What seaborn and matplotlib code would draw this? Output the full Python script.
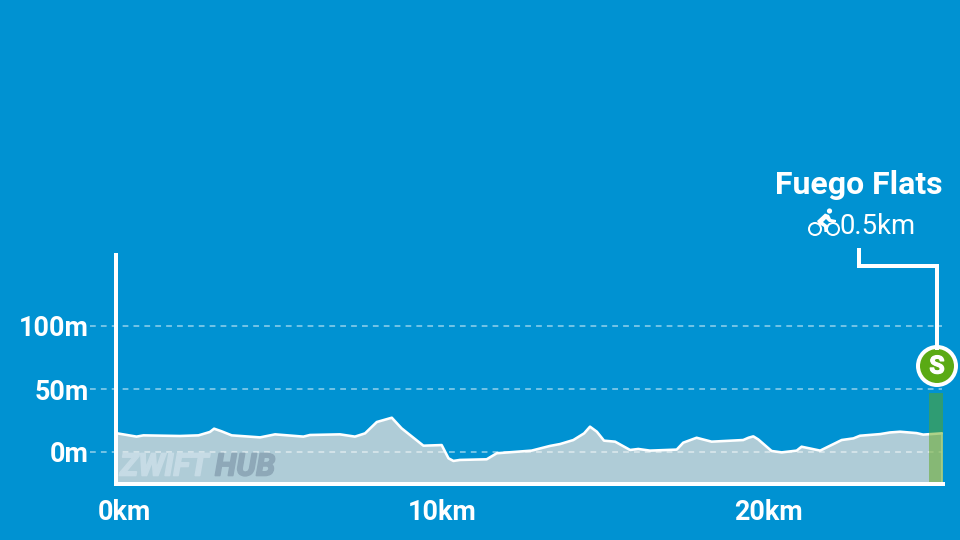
import numpy as np
import pandas as pd
import seaborn as sns
import matplotlib
matplotlib.use("Agg")
import matplotlib.pyplot as plt
import matplotlib.patheffects as pe
from matplotlib.patches import Circle, Polygon

BG = "#0092d2"
FILL = "#afccd7"
GREEN = "#5ea615"

distance_km = [0.04, 0.63, 0.84, 1.96, 2.53, 2.88, 3.01, 3.24, 3.55, 4.42, 4.88, 5.75, 5.95, 6.87,
               7.33, 7.64, 8.0, 8.46, 8.76, 9.43, 9.99, 10.2, 10.35, 10.55, 11.37, 11.68, 12.75,
               13.31, 13.62, 14.03, 14.36, 14.54, 14.75, 14.97, 15.31, 15.77, 16.02, 16.38, 17.2,
               17.4, 17.81, 18.27, 19.24, 19.4, 19.55, 19.7, 20.11, 20.42, 20.88, 21.03, 21.6,
               22.26, 22.62, 22.82, 23.44, 23.74, 24.05, 24.56, 24.76, 25.33]
elevation_m = [14.8, 12.2, 13.2, 12.7, 13.2, 15.9, 18.5, 16.4, 13.2, 11.6, 14.0, 12.2, 13.5, 14.0,
               12.2, 14.8, 23.8, 27.2, 18.8, 5.0, 5.5, -5.0, -7.1, -6.3, -5.8, -1.0, 1.1,
               4.8, 6.3, 9.5, 14.8, 20.1, 16.1, 9.0, 8.2, 1.6, 2.4, 1.1, 1.9,
               7.4, 11.3, 8.2, 9.5, 11.3, 12.4, 10.0, 0.8, -0.3, 1.1, 4.2, 1.1,
               9.5, 10.8, 12.9, 14.2, 15.5, 16.1, 15.0, 13.8, 14.8]
x_ticks = [0, 5, 10, 15, 20, 25]
x_labels = ["0km", "", "10km", "", "20km", ""]
y_ticks = [0, 50, 100]
y_labels = ["0m", "50m", "100m"]
segment_name = "Fuego Flats"
segment_length = "0.5km"
segment_span = [24.94, 25.37]

sns.set_theme(style="white", rc={"axes.facecolor": BG, "figure.facecolor": BG})
plt.rcParams["font.family"] = ["Roboto", "DejaVu Sans"]

fig = plt.figure(figsize=(9.6, 5.4), dpi=100, facecolor=BG)
def pt(px):
    return px * 0.72

L, R, T, B = 116, 943, 255, 484
ax = fig.add_axes([L / 960, 1 - B / 540, (R - L) / 960, (B - T) / 540])
ax.set_facecolor("none")
ax.set_xlim(0, (R - L) / 32.6)
ax.set_ylim(-(B - 452) / 1.26, (452 - T) / 1.26)

df = pd.DataFrame({"km": distance_km, "m": elevation_m})
bottom = ax.get_ylim()[0]
ax.fill_between(df["km"], df["m"], bottom, color=FILL, lw=0, zorder=1)
sns.lineplot(data=df, x="km", y="m", ax=ax, color="white", lw=pt(2.6), zorder=3, errorbar=None)
ax.lines[-1].set_solid_joinstyle("round")
ax.plot([distance_km[-1]] * 2, [elevation_m[-1], bottom], color="white", lw=pt(1.5), zorder=3)
ax.set_xlabel("")
ax.set_ylabel("")

for v in y_ticks:
    ax.plot([-0.8, distance_km[-1]], [v, v], color="white", alpha=0.55, lw=pt(1.6),
            dashes=(3.6, 3.2), clip_on=False, zorder=2)

ax.axvspan(segment_span[0], segment_span[1], ymin=0, ymax=(484 - 393) / (B - T),
           color=GREEN, alpha=0.5, lw=0, zorder=4)

for s in ["top", "right"]:
    ax.spines[s].set_visible(False)
for s in ["left", "bottom"]:
    ax.spines[s].set_color("white")
    ax.spines[s].set_linewidth(pt(4))
    ax.spines[s].set_zorder(6)
ax.set_xticks(x_ticks, x_labels)
ax.set_yticks(y_ticks, y_labels)
ax.tick_params(axis="x", colors="white", length=pt(6), width=pt(3), pad=pt(9), labelsize=pt(27))
ax.tick_params(axis="y", length=0, labelcolor="white", pad=pt(27), labelsize=pt(27))
for lab in ax.get_xticklabels() + ax.get_yticklabels():
    lab.set_fontweight("bold")
ax.get_xticklabels()[0].set_horizontalalignment("left")
ax.get_xticklabels()[0].set_x(0)
ax.get_xticklabels()[0].set_transform(
    ax.get_xticklabels()[0].get_transform() + matplotlib.transforms.ScaledTranslation(-18 / 100, 0, fig.dpi_scale_trans))

ov = fig.add_axes([0, 0, 1, 1], zorder=10)
ov.set_xlim(0, 960)
ov.set_ylim(540, 0)
ov.axis("off")
ov.patch.set_alpha(0)

ov.text(120, 467, "ZWIFT", color="#c6dbe5", fontsize=pt(31), fontweight="bold", style="italic",
        va="center", ha="left", path_effects=[pe.withStroke(linewidth=1.2, foreground="#c6dbe5")])
ov.text(215, 467, "HUB", color="#8ea8b8", fontsize=pt(31), fontweight="bold", style="italic",
        va="center", ha="left", path_effects=[pe.withStroke(linewidth=1.2, foreground="#8ea8b8")])

ov.text(859, 185, segment_name, color="white", fontsize=pt(32), fontweight="bold", ha="center", va="center")
ov.text(878, 226, segment_length, color="white", fontsize=pt(27.5), ha="center", va="center")

ov.plot([859, 859, 937, 937], [248, 266, 266, 350], color="white", lw=pt(4),
        solid_joinstyle="miter", solid_capstyle="butt")
ov.add_patch(Circle((937, 366), 21, fc="white", ec="none"))
ov.add_patch(Circle((937, 366), 17, fc="#5aaa14", ec="none"))
ov.text(937, 366.5, "S", color="white", fontsize=pt(25), fontweight="bold", ha="center", va="center",
        path_effects=[pe.withStroke(linewidth=0.8, foreground="white")])

# cyclist icon
ov.add_patch(Circle((815, 229), 6, fc="none", ec="white", lw=pt(2)))
ov.add_patch(Circle((833, 229), 6, fc="none", ec="white", lw=pt(2)))
ov.add_patch(Circle((829.5, 211), 2.6, fc="white", ec="none"))
ov.add_patch(Polygon([(817, 221), (825, 213.5), (829, 215), (831, 219), (836, 220), (836, 222),
                     (829, 222), (826, 219), (823, 222), (827, 225), (827, 232), (824.5, 232),
                     (824, 227), (819, 224)], fc="white", ec="none"))

fig.savefig("out.png", dpi=100, facecolor=BG)
